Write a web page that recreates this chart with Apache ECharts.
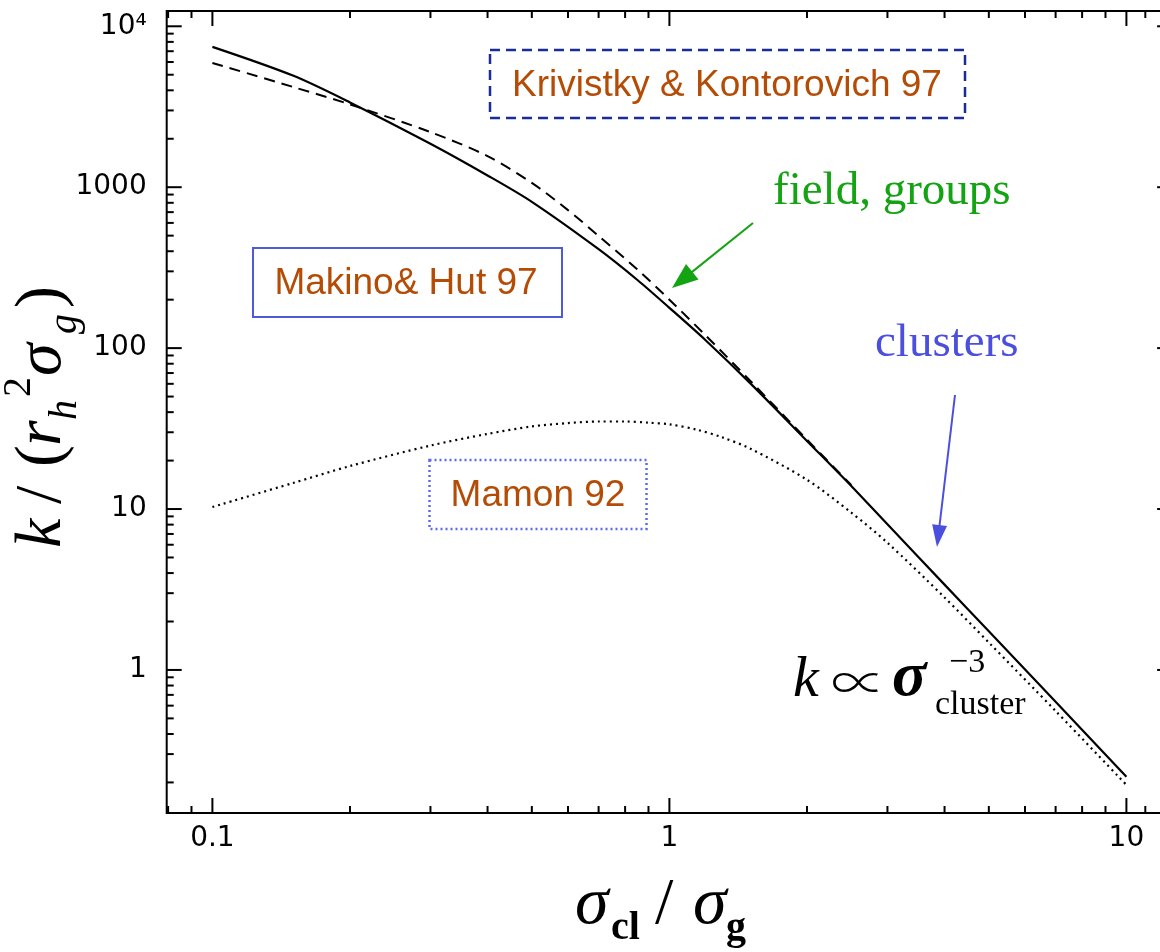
<!DOCTYPE html>
<html><head><meta charset="utf-8">
<script src="https://cdn.jsdelivr.net/npm/echarts@6/dist/echarts.min.js"></script>
<style>html,body{margin:0;padding:0;background:#fff}#c{width:1160px;height:952px}</style>
</head><body><div id="c"></div>
<script>
// ---- data ----
const makinoX = [0.1,0.15,0.2,0.3,0.4,0.5,0.7,0.85,1,1.2,1.5,2,2.5,3,4,5,7,10];
const makinoHut = [7450,4940,3365,1862,1183,811,412,266,178,112,60.8,26.5,13.9,8.03,3.39,1.74,0.634,0.217];
const krivX = [0.1,0.15,0.2,0.3,0.4,0.5,0.6,0.7,0.85,1,1.2,1.5,2,2.5];
const krivistky = [5920,4200,3270,2200,1560,1064,720,498,309,200,120,63,27,14.1];
const mamonX = [0.1,0.15,0.2,0.3,0.4,0.5,0.6,0.7,0.8,0.9,1,1.15,1.3,1.5,2,2.5,3,4,5,7,10];
const mamon = [10.3,14.5,18.5,24.8,29.3,32.6,34.2,35.0,35.0,34.4,33.6,31.1,28.0,23.8,15.2,9.5,6.17,2.82,1.48,0.556,0.193];

const xMajorTicks = [0.1,1,10];
const xTickLabels = ['0.1','1','10'];
const xMinorTicks = [0.08,0.09,0.2,0.3,0.4,0.5,0.6,0.7,0.8,0.9,2,3,4,5,6,7,8,9,11,12];
const yMajorTicks = [1,10,100,1000,10000];
const yTickLabels = ['1','10','100','1000','10⁴'];
const yMinorTicks = [0.2,0.3,0.4,0.5,0.6,0.7,0.8,0.9,2,3,4,5,6,7,8,9,20,30,40,50,60,70,80,90,
  200,300,400,500,600,700,800,900,2000,3000,4000,5000,6000,7000,8000,9000];

const XMIN = Math.pow(10,-1.1), XMAX = Math.pow(10,1.1);
const YMIN = Math.pow(10,-0.889), YMAX = Math.pow(10,4.095);

const zip = (xs, ys) => xs.map((x,i)=>[x, ys[i]]);
const near = (a,b) => Math.abs(Math.log10(a)-Math.log10(b)) < 1e-6;

const tickData = [];
xMajorTicks.forEach(v=>tickData.push([v, YMIN, 0, 15]));
xMinorTicks.forEach(v=>tickData.push([v, YMIN, 0, 7]));
yMajorTicks.forEach(v=>tickData.push([XMIN, v, 1, 15]));
yMinorTicks.forEach(v=>tickData.push([XMIN, v, 1, 7]));

const SERIF = "'Liberation Serif','Times New Roman',serif";
const SANS = "'Liberation Sans',Arial,sans-serif";
const BROWN = '#b44c06';

function txt(x, baseline, text, size, family, o) {
  o = o || {};
  const el = {type:'text', x:x, y: baseline - 0.34*size, z: 100,
    style:{text:text, fontSize:size, fontFamily:family, fontStyle:o.italic?'italic':'normal',
      fontWeight:o.weight || (o.bold?'bold':'normal'), fill:o.color||'#000',
      align:o.align||'left', textAlign:o.align||'left', verticalAlign:'middle', textVerticalAlign:'middle'}};
  if (o.scaleX) el.scaleX = o.scaleX;
  return el;
}
function arrow(x1,y1,x2,y2,color,hl,hw){
  const a=Math.atan2(y2-y1,x2-x1);
  const bx=x2-hl*Math.cos(a), by=y2-hl*Math.sin(a);
  const px=-Math.sin(a)*hw/2, py=Math.cos(a)*hw/2;
  return [{type:'line', z:100, shape:{x1:x1,y1:y1,x2:bx+(x2-bx)*0.3,y2:by+(y2-by)*0.3}, style:{stroke:color,lineWidth:2}},
          {type:'polygon', z:100, shape:{points:[[x2,y2],[bx+px,by+py],[bx-px,by-py]]}, style:{fill:color}}];
}

const graphics = [
  {type:'rect', z:100, shape:{x:490,y:50,width:475,height:68}, style:{fill:null,stroke:'#1a2b9b',lineWidth:2.5,lineDash:[10,6]}},
  txt(727, 98.3, 'Krivistky & Kontorovich 97', 37, SANS, {color:BROWN, align:'center'}),
  {type:'rect', z:100, shape:{x:253,y:248,width:309,height:69}, style:{fill:null,stroke:'#4d5bd9',lineWidth:2}},
  txt(406, 296.7, 'Makino& Hut 97', 37, SANS, {color:BROWN, align:'center'}),
  {type:'rect', z:100, shape:{x:429.5,y:460,width:217,height:69}, style:{fill:null,stroke:'#5b6af0',lineWidth:2.5,lineDash:[2,3]}},
  txt(538, 508.3, 'Mamon 92', 37, SANS, {color:BROWN, align:'center'}),
  txt(773, 208, 'field, groups', 47, SERIF, {color:'#13a313'}),
  txt(875, 360, 'clusters', 47, SERIF, {color:'#4c4fdd'}),
  ...arrow(753,223,672,288,'#13a313',26,20),
  ...arrow(955,395,937,547,'#4c4fdd',22,15),
  // k ∝ σ_cluster^-3
  txt(793, 700, 'k', 58, SERIF, {italic:true}),
  txt(831, 698, '∝', 48, "'Noto Sans CJK JP','DejaVu Sans',sans-serif", {scaleX:1.15, weight:200}),
  txt(892, 700, 'σ', 64, SERIF, {italic:true, bold:true}),
  txt(949, 675, '−3', 34, SERIF),
  txt(935, 717, 'cluster', 34, SERIF),
  // x title
  txt(575, 928, 'σ', 68, SERIF, {italic:true}),
  txt(611, 942, 'cl', 40, SERIF, {bold:true}),
  txt(655, 928, '/', 66, SERIF),
  txt(693, 928, 'σ', 68, SERIF, {italic:true}),
  txt(726, 942, 'g', 40, SERIF, {bold:true}),
  // y title (rotated)
  {type:'group', x:65, y:548, rotation:Math.PI/2, z:100, children:[
    txt(0, 0, 'k', 66, SERIF, {italic:true}),
    txt(44, 0, '/', 66, SERIF),
    txt(81, 0, '(', 66, SERIF),
    txt(102, 0, 'r', 66, SERIF, {italic:true}),
    txt(128, 14, 'h', 40, SERIF, {italic:true}),
    txt(151, -32, '2', 40, SERIF),
    txt(172, 0, 'σ', 66, SERIF, {italic:true}),
    txt(214, 14, 'g', 40, SERIF, {italic:true}),
    txt(240, 0, ')', 66, SERIF)
  ]}
];

const chart = echarts.init(document.getElementById('c'), null, {renderer:'canvas'});
chart.setOption({
  animation:false,
  backgroundColor:'#fff',
  grid:{left:166.7, top:11, width:1005.4, height:802, show:true, borderColor:'#000', borderWidth:2,
    backgroundColor:'transparent', containLabel:false, outerBoundsMode:'none'},
  xAxis:{type:'log', logBase:10, min:XMIN, max:XMAX,
    axisLine:{show:false}, axisTick:{show:false}, splitLine:{show:false}, minorTick:{show:false},
    axisLabel:{margin:12, fontSize:28, fontFamily:"'DejaVu Sans',sans-serif", color:'#000',
      formatter:(v)=>{const i=xMajorTicks.findIndex(t=>near(t,v)); return i>=0?xTickLabels[i]:'';}}},
  yAxis:{type:'log', logBase:10, min:YMIN, max:YMAX,
    axisLine:{show:false}, axisTick:{show:false}, splitLine:{show:false}, minorTick:{show:false},
    axisLabel:{margin:20, fontSize:28, fontFamily:"'DejaVu Sans',sans-serif", color:'#000',
      formatter:(v)=>{const i=yMajorTicks.findIndex(t=>near(t,v)); return i>=0?yTickLabels[i]:'';}}},
  series:[
    {type:'custom', coordinateSystem:'cartesian2d', clip:false, silent:true, z:5,
      encode:{x:0,y:1}, data:tickData,
      renderItem:(params, api)=>{
        const kind=api.value(2), len=api.value(3), st={stroke:'#000',lineWidth:2};
        if(kind===0){
          const b=api.coord([api.value(0),YMIN]), t=api.coord([api.value(0),YMAX]);
          return {type:'group',children:[
            {type:'line',shape:{x1:b[0],y1:b[1],x2:b[0],y2:b[1]-len},style:st},
            {type:'line',shape:{x1:t[0],y1:t[1],x2:t[0],y2:t[1]+len},style:st}]};
        }
        const l=api.coord([XMIN,api.value(1)]), r=api.coord([XMAX,api.value(1)]);
        return {type:'group',children:[
          {type:'line',shape:{x1:l[0],y1:l[1],x2:l[0]+len,y2:l[1]},style:st},
          {type:'line',shape:{x1:r[0],y1:r[1],x2:r[0]-len,y2:r[1]},style:st}]};
      }},
    {name:'Makino & Hut 97', type:'line', data:zip(makinoX, makinoHut), showSymbol:false, smooth:0.3,
      lineStyle:{color:'#000', width:2.2, type:'solid'}},
    {name:'Krivistky & Kontorovich 97', type:'line', data:zip(krivX, krivistky), showSymbol:false, smooth:0.3,
      lineStyle:{color:'#000', width:2, type:[11,7]}},
    {name:'Mamon 92', type:'line', data:zip(mamonX, mamon), showSymbol:false, smooth:0.3,
      lineStyle:{color:'#000', width:2.2, type:[2,4]}}
  ],
  graphic:{elements:graphics}
});
</script></body></html>
